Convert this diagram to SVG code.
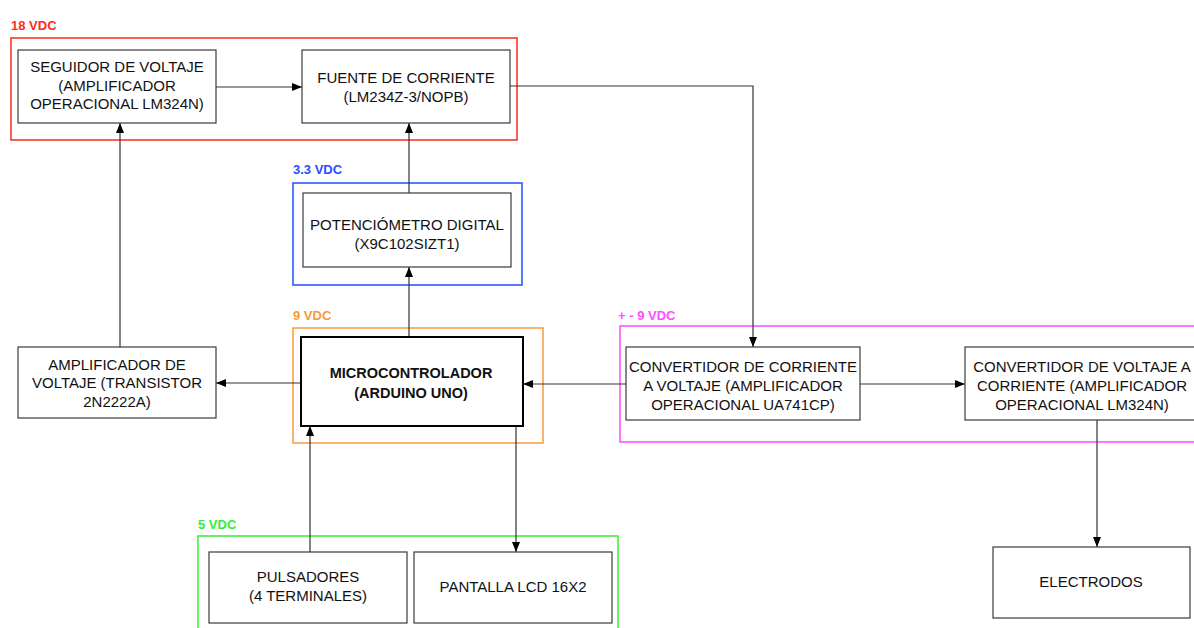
<svg xmlns="http://www.w3.org/2000/svg" width="1194" height="628" viewBox="0 0 1194 628">
<defs>
<style>
.box{fill:#fff;stroke:#3a3a3a;stroke-width:1.2}
.main{fill:#fff;stroke:#000;stroke-width:2}
.t{font-family:"Liberation Sans",Arial,sans-serif;font-size:15px;fill:#111;text-anchor:middle}
.b{font-weight:bold;font-size:14.5px}
.g{font-family:"Liberation Sans",Arial,sans-serif;font-size:13px;font-weight:bold}
.grp{fill:none;stroke-width:1.5}
.c{fill:none;stroke:#333;stroke-width:1.2}
</style>
<marker id="ah" viewBox="0 0 10 10" refX="10" refY="5" markerWidth="10" markerHeight="10" markerUnits="userSpaceOnUse" orient="auto">
<path d="M0,1 L10,5 L0,9 Z" fill="#000"/>
</marker>
</defs>
<rect width="1194" height="628" fill="#fff"/>

<g id="groups">
<rect class="grp" x="11" y="38" width="506" height="102" stroke="#ff2a1a"/>
<text class="g" x="11" y="30" fill="#ff2a1a">18 VDC</text>
<rect class="grp" x="293" y="183" width="229" height="102" stroke="#1f4fff"/>
<text class="g" x="293" y="174" fill="#1f4fff">3.3 VDC</text>
<rect class="grp" x="293" y="328" width="250" height="115" stroke="#f79a3e"/>
<text class="g" x="293" y="320" fill="#f79a3e">9 VDC</text>
<rect class="grp" x="620" y="326" width="590" height="116" stroke="#ff4dff"/>
<text class="g" x="618" y="320" fill="#ff4dff">+ - 9 VDC</text>
<rect class="grp" x="198" y="536" width="420" height="110" stroke="#33ee33"/>
<text class="g" x="198" y="529" fill="#33ee33">5 VDC</text>
</g>

<g id="connectors">
<path class="c" d="M216,87 H302" marker-end="url(#ah)"/>
<path class="c" d="M120,347 V123" marker-end="url(#ah)"/>
<path class="c" d="M409,193 V123" marker-end="url(#ah)"/>
<path class="c" d="M409,337 V267" marker-end="url(#ah)"/>
<path class="c" d="M301,383 H216" marker-end="url(#ah)"/>
<path class="c" d="M510,86 H753 V347" marker-end="url(#ah)"/>
<path class="c" d="M626,384 H523" marker-end="url(#ah)"/>
<path class="c" d="M860,384 H965" marker-end="url(#ah)"/>
<path class="c" d="M1097,420 V547" marker-end="url(#ah)"/>
<path class="c" d="M310,552 V426" marker-end="url(#ah)"/>
<path class="c" d="M516,426 V552" marker-end="url(#ah)"/>
</g>

<g id="seguidor">
<rect class="box" x="18" y="50" width="198" height="73"/>
<text class="t" x="117" y="72">SEGUIDOR DE VOLTAJE</text>
<text class="t" x="117" y="91">(AMPLIFICADOR</text>
<text class="t" x="117" y="109">OPERACIONAL LM324N)</text>
</g>
<g id="fuente">
<rect class="box" x="302" y="50" width="208" height="73"/>
<text class="t" x="406" y="83">FUENTE DE CORRIENTE</text>
<text class="t" x="406" y="102">(LM234Z-3/NOPB)</text>
</g>
<g id="potenciometro">
<rect class="box" x="303" y="193" width="208" height="74"/>
<text class="t" x="407" y="230">POTENCIÓMETRO DIGITAL</text>
<text class="t" x="407" y="249">(X9C102SIZT1)</text>
</g>
<g id="microcontrolador">
<rect class="main" x="301" y="337" width="222" height="89"/>
<text class="t b" x="411" y="378">MICROCONTROLADOR</text>
<text class="t b" x="411" y="398">(ARDUINO UNO)</text>
</g>
<g id="amplificador">
<rect class="box" x="18" y="347" width="198" height="71"/>
<text class="t" x="117" y="370">AMPLIFICADOR DE</text>
<text class="t" x="117" y="388">VOLTAJE (TRANSISTOR</text>
<text class="t" x="117" y="407">2N2222A)</text>
</g>
<g id="convertidor1">
<rect class="box" x="626" y="347" width="234" height="73"/>
<text class="t" x="743" y="372">CONVERTIDOR DE CORRIENTE</text>
<text class="t" x="743" y="391">A VOLTAJE (AMPLIFICADOR</text>
<text class="t" x="743" y="410">OPERACIONAL UA741CP)</text>
</g>
<g id="convertidor2">
<rect class="box" x="965" y="347" width="236" height="73"/>
<text class="t" x="1082" y="372">CONVERTIDOR DE VOLTAJE A</text>
<text class="t" x="1082" y="391">CORRIENTE (AMPLIFICADOR</text>
<text class="t" x="1082" y="410">OPERACIONAL LM324N)</text>
</g>
<g id="electrodos">
<rect class="box" x="993" y="547" width="197" height="71"/>
<text class="t" x="1091" y="587">ELECTRODOS</text>
</g>
<g id="pulsadores">
<rect class="box" x="209" y="552" width="198" height="71"/>
<text class="t" x="308" y="582">PULSADORES</text>
<text class="t" x="308" y="601">(4 TERMINALES)</text>
</g>
<g id="pantalla">
<rect class="box" x="414" y="552" width="198" height="71"/>
<text class="t" x="513" y="592">PANTALLA LCD 16X2</text>
</g>
</svg>
